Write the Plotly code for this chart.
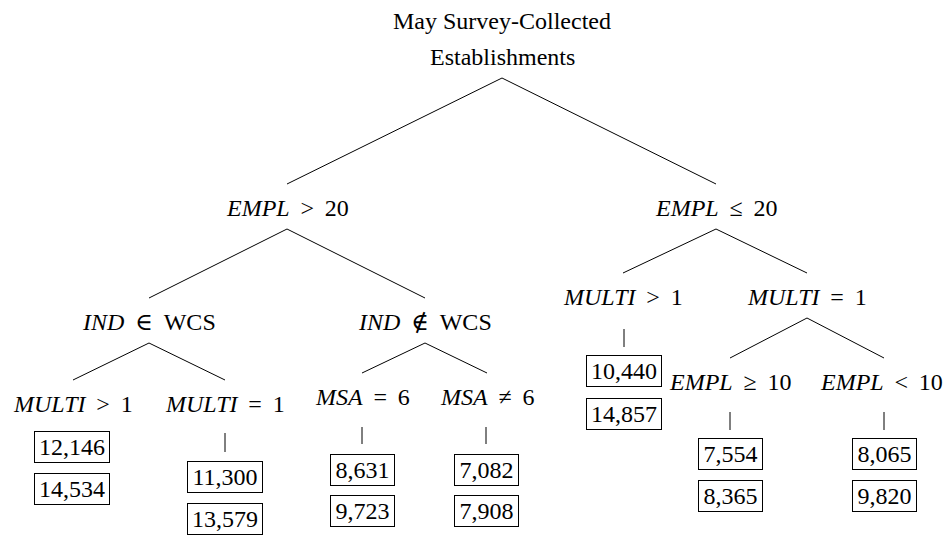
import plotly.graph_objects as go

# ---- content ----
root_title = ["May Survey-Collected", "Establishments"]
node_ids = ["root", "A", "B", "A1", "A2", "A1a", "A1b", "A2a", "A2b", "B1", "B2", "B2a", "B2b"]
node_vars = [None, "EMPL", "EMPL", "IND", "IND", "MULTI", "MULTI", "MSA", "MSA",
             "MULTI", "MULTI", "EMPL", "EMPL"]
node_ops = [None, ">", "≤", "∈", "∉", ">", "=", "=", "≠", ">", "=", "≥", "<"]
node_vals = [None, "20", "20", "WCS", "WCS", "1", "1", "6", "6", "1", "1", "10", "10"]
node_parents = [None, "root", "root", "A", "A", "A1", "A1", "A2", "A2", "B", "B", "B2", "B2"]
leaf_ids = ["A1a", "A1b", "A2a", "A2b", "B1", "B2a", "B2b"]
count_first = [12146, 11300, 8631, 7082, 10440, 7554, 8065]
count_second = [14534, 13579, 9723, 7908, 14857, 8365, 9820]

# ---- layout (pixel positions of tree nodes, from page top-left) ----
node_pos = {
    "root": (502, 57), "A": (287, 208), "B": (716, 208),
    "A1": (149, 322), "A2": (425, 322),
    "A1a": (73, 404), "A1b": (225, 404),
    "A2a": (362, 397), "A2b": (487, 397),
    "B1": (623, 297), "B2": (807, 297),
    "B2a": (730, 382), "B2b": (884, 382),
}
label_shift = {"B2b": -3}
title_line1_y = 21
# leaf: (box x, box1 y, box2 y, tick y0, tick y1)
leaf_layout = {
    "A1a": (72, 447, 489, None, None),
    "A1b": (225, 477, 519, 433, 452),
    "A2a": (362, 470, 511, 427, 444),
    "A2b": (486, 470, 511, 427, 444),
    "B1": (624, 371, 414, 329, 347),
    "B2a": (730, 454, 496, 412, 430),
    "B2b": (884, 454, 496, 412, 430),
}
PAGE_OFFSET = 8  # default body margin of the html page
W, H = 951, 536

FONT = dict(family="Liberation Serif, DejaVu Serif, serif", size=24, color="black")
SP = "\u00a0\u2009"

line_x, line_y = [], []
for nid, par in zip(node_ids, node_parents):
    if par is None:
        continue
    px, py = node_pos[par]
    cx, cy = node_pos[nid]
    line_x += [px, cx, None]
    line_y += [py + 21, cy - 24, None]
for lid in leaf_ids:
    bx, y1, y2, t0, t1 = leaf_layout[lid]
    if t0 is not None:
        line_x += [bx, bx, None]
        line_y += [t0, t1, None]

fig = go.Figure()
fig.add_trace(go.Scatter(x=line_x, y=line_y, mode="lines",
                         line=dict(color="black", width=1), hoverinfo="skip",
                         showlegend=False))

ann = []
ann.append(dict(x=node_pos["root"][0], y=title_line1_y, text=root_title[0]))
ann.append(dict(x=node_pos["root"][0], y=node_pos["root"][1], text=root_title[1]))
for nid, var, op, val in zip(node_ids, node_vars, node_ops, node_vals):
    if var is None:
        continue
    x, y = node_pos[nid]
    x += label_shift.get(nid, 0)
    lab = f"<i>{var}</i>{SP}{op}{SP}{val}"
    ann.append(dict(x=x, y=y, text=lab))
for lid, a, b in zip(leaf_ids, count_first, count_second):
    bx, y1, y2, _, _ = leaf_layout[lid]
    for val, yy in ((a, y1), (b, y2)):
        txt = f"{val:,}"
        ann.append(dict(x=bx, y=yy, text=txt, bordercolor="black",
                        borderwidth=1, borderpad=1, width=11 * len(txt) + 6, height=28))
for a in ann:
    a.update(xref="x", yref="y", showarrow=False, font=FONT,
             xanchor="center", yanchor="middle")

fig.update_layout(
    width=W, height=H, margin=dict(l=0, r=0, t=0, b=0),
    paper_bgcolor="white", plot_bgcolor="white",
    xaxis=dict(range=[PAGE_OFFSET, W + PAGE_OFFSET], visible=False, fixedrange=True),
    yaxis=dict(range=[H + PAGE_OFFSET, PAGE_OFFSET], visible=False, fixedrange=True),
    annotations=ann, showlegend=False,
)
fig.write_html("out.html")
